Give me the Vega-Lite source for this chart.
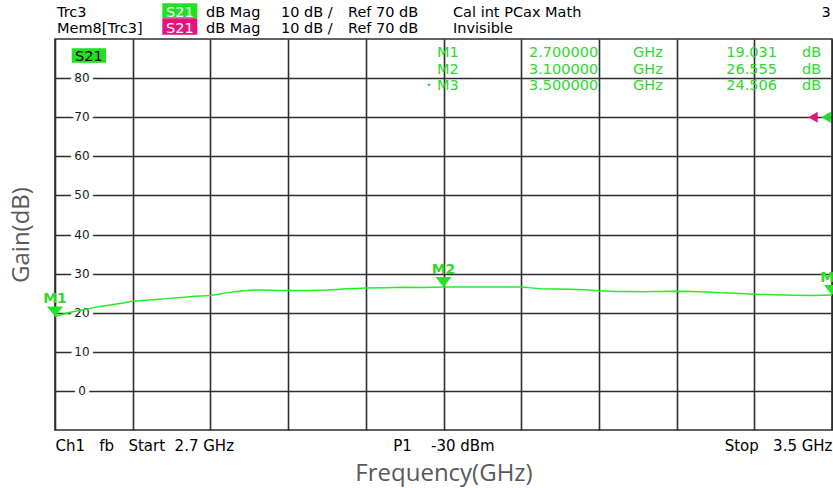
{
  "$schema": "https://vega.github.io/schema/vega-lite/v6.json",
  "width": 777,
  "height": 391,
  "autosize": {"type": "none"},
  "padding": {"left": 55, "top": 39, "right": 1, "bottom": 58},
  "background": "white",
  "config": {
    "view": {"stroke": "#2e2e2e", "strokeWidth": 1.6},
    "font": "DejaVu Sans",
    "text": {"font": "DejaVu Sans"}
  },
  "datasets": {
    "trace": [
      {"freq": 2.700, "gain": 19.03},
      {"freq": 2.708, "gain": 19.6},
      {"freq": 2.716, "gain": 20.1},
      {"freq": 2.724, "gain": 20.5},
      {"freq": 2.732, "gain": 20.9},
      {"freq": 2.740, "gain": 21.3},
      {"freq": 2.750, "gain": 21.7},
      {"freq": 2.760, "gain": 22.1},
      {"freq": 2.770, "gain": 22.5},
      {"freq": 2.780, "gain": 22.9},
      {"freq": 2.790, "gain": 23.1},
      {"freq": 2.800, "gain": 23.3},
      {"freq": 2.815, "gain": 23.6},
      {"freq": 2.830, "gain": 23.9},
      {"freq": 2.845, "gain": 24.2},
      {"freq": 2.860, "gain": 24.4},
      {"freq": 2.870, "gain": 24.8},
      {"freq": 2.880, "gain": 25.2},
      {"freq": 2.890, "gain": 25.5},
      {"freq": 2.900, "gain": 25.75},
      {"freq": 2.910, "gain": 25.8},
      {"freq": 2.920, "gain": 25.75},
      {"freq": 2.930, "gain": 25.7},
      {"freq": 2.940, "gain": 25.65},
      {"freq": 2.950, "gain": 25.7},
      {"freq": 2.960, "gain": 25.7},
      {"freq": 2.970, "gain": 25.75},
      {"freq": 2.980, "gain": 25.8},
      {"freq": 2.990, "gain": 25.95},
      {"freq": 3.000, "gain": 26.1},
      {"freq": 3.010, "gain": 26.2},
      {"freq": 3.020, "gain": 26.3},
      {"freq": 3.040, "gain": 26.4},
      {"freq": 3.060, "gain": 26.5},
      {"freq": 3.080, "gain": 26.45},
      {"freq": 3.100, "gain": 26.55},
      {"freq": 3.120, "gain": 26.6},
      {"freq": 3.140, "gain": 26.55},
      {"freq": 3.160, "gain": 26.6},
      {"freq": 3.180, "gain": 26.6},
      {"freq": 3.190, "gain": 26.35},
      {"freq": 3.200, "gain": 26.15},
      {"freq": 3.215, "gain": 26.05},
      {"freq": 3.230, "gain": 26.0},
      {"freq": 3.245, "gain": 25.9},
      {"freq": 3.260, "gain": 25.6},
      {"freq": 3.275, "gain": 25.45},
      {"freq": 3.290, "gain": 25.4},
      {"freq": 3.305, "gain": 25.35},
      {"freq": 3.320, "gain": 25.4},
      {"freq": 3.340, "gain": 25.5},
      {"freq": 3.355, "gain": 25.45},
      {"freq": 3.370, "gain": 25.3},
      {"freq": 3.385, "gain": 25.1},
      {"freq": 3.400, "gain": 25.0},
      {"freq": 3.420, "gain": 24.75},
      {"freq": 3.440, "gain": 24.6},
      {"freq": 3.460, "gain": 24.45},
      {"freq": 3.480, "gain": 24.4},
      {"freq": 3.500, "gain": 24.506}
    ],
    "markers": [
      {"marker": "M1", "freq": 2.7, "gain": 19.031},
      {"marker": "M2", "freq": 3.1, "gain": 26.555},
      {"marker": "M3", "freq": 3.5, "gain": 24.506}
    ],
    "reflevel": [
      {"trace": "Mem8[Trc3]", "freq": 3.4804, "gain": 70},
      {"trace": "Trc3", "freq": 3.4938, "gain": 70}
    ],
    "ticks": [
      {"gain": 0}, {"gain": 10}, {"gain": 20}, {"gain": 30}, {"gain": 40},
      {"gain": 50}, {"gain": 60}, {"gain": 70}, {"gain": 80}
    ]
  },
  "layer": [
    {
      "data": {"name": "ticks"},
      "mark": {"type": "text", "fontSize": 12, "fill": "white", "stroke": "white", "strokeWidth": 8, "align": "center", "baseline": "middle"},
      "encoding": {
        "x": {
          "datum": 2.7278, "type": "quantitative",
          "scale": {"domain": [2.7, 3.5], "nice": false, "zero": false},
          "axis": {
            "title": "Frequency(GHz)",
            "values": [2.7, 2.78, 2.86, 2.94, 3.02, 3.1, 3.18, 3.26, 3.34, 3.42, 3.5],
            "grid": true, "gridColor": "#2e2e2e", "gridWidth": 1.6,
            "domain": false, "ticks": false, "tickSize": 0,
            "labelExpr": "datum.value < 2.71 ? 'Ch1\u00a0\u00a0\u00a0fb\u00a0\u00a0\u00a0Start\u00a0\u00a02.7 GHz' : (abs(datum.value - 3.1) < 0.01 ? 'P1\u00a0\u00a0\u00a0\u00a0-30 dBm' : (datum.value > 3.49 ? 'Stop\u00a0\u00a0\u00a03.5 GHz' : ''))",
            "labelFlush": true, "labelOverlap": false, "labelBound": false,
            "labelPadding": 20, "labelBaseline": "alphabetic",
            "labelFont": "DejaVu Sans", "labelFontSize": 15, "labelColor": "#000000",
            "titleFont": "Open Sans", "titleFontSize": 24, "titleFontWeight": "normal",
            "titleColor": "#595959", "titlePadding": 8
          }
        },
        "y": {
          "field": "gain", "type": "quantitative",
          "scale": {"domain": [-10, 90], "nice": false, "zero": false},
          "axis": {
            "title": "Gain(dB)",
            "values": [0, 10, 20, 30, 40, 50, 60, 70, 80],
            "grid": true, "gridColor": "#2e2e2e", "gridWidth": 1.6,
            "domain": false, "ticks": false, "tickSize": 0, "labels": false,
            "titleFont": "Open Sans", "titleFontSize": 24, "titleFontWeight": "normal",
            "titleColor": "#595959", "titlePadding": 22
          }
        },
        "text": {"field": "gain", "type": "quantitative", "format": "d"}
      }
    },
    {
      "data": {"name": "ticks"},
      "mark": {"type": "text", "fontSize": 12, "color": "#1a1a1a", "align": "center", "baseline": "middle"},
      "encoding": {
        "x": {"datum": 2.7278, "type": "quantitative"},
        "y": {"field": "gain", "type": "quantitative"},
        "text": {"field": "gain", "type": "quantitative", "format": "d"}
      }
    },
    {
      "data": {"name": "trace"},
      "mark": {"type": "line", "color": "#22ee22", "strokeWidth": 1.5},
      "encoding": {
        "x": {"field": "freq", "type": "quantitative"},
        "y": {"field": "gain", "type": "quantitative"}
      }
    },
    {
      "data": {"name": "markers"},
      "mark": {"type": "point", "shape": "M-1,-1.25L1,-1.25L0,0Z", "filled": true, "color": "#22e622", "opacity": 1, "size": 256, "strokeWidth": 0},
      "encoding": {
        "x": {"field": "freq", "type": "quantitative"},
        "y": {"field": "gain", "type": "quantitative"}
      }
    },
    {
      "data": {"name": "markers"},
      "mark": {"type": "text", "fontSize": 14, "fontWeight": "bold", "color": "#2ed82e", "align": "center", "baseline": "middle", "dy": -17},
      "encoding": {
        "x": {"field": "freq", "type": "quantitative"},
        "y": {"field": "gain", "type": "quantitative"},
        "text": {"field": "marker"}
      }
    },
    {
      "data": {"name": "reflevel"},
      "mark": {"type": "point", "shape": "triangle-left", "filled": true, "opacity": 1, "size": 120, "strokeWidth": 0},
      "encoding": {
        "x": {"field": "freq", "type": "quantitative"},
        "y": {"field": "gain", "type": "quantitative"},
        "color": {"field": "trace", "type": "nominal", "scale": {"domain": ["Mem8[Trc3]", "Trc3"], "range": ["#e8127f", "#22dd22"]}, "legend": null}
      }
    },
    {
      "data": {"values": [{}]},
      "mark": {"type": "rect", "color": "#22e022"},
      "encoding": {
        "x": {"datum": 2.71719, "type": "quantitative"},
        "x2": {"datum": 2.75251},
        "y": {"datum": 87.62, "type": "quantitative"},
        "y2": {"datum": 83.94}
      }
    },
    {
      "data": {"values": [{}]},
      "mark": {"type": "text", "text": "S21", "fontSize": 14.5, "color": "#000000", "align": "center", "baseline": "alphabetic"},
      "encoding": {
        "x": {"datum": 2.73485, "type": "quantitative"},
        "y": {"datum": 84.3, "type": "quantitative"}
      }
    },
    {
      "data": {"values": [{}]},
      "mark": {"type": "rect", "color": "#22e022"},
      "encoding": {
        "x": {"datum": 2.81048, "type": "quantitative"},
        "x2": {"datum": 2.84651},
        "y": {"datum": 99.13, "type": "quantitative"},
        "y2": {"datum": 95.29}
      }
    },
    {
      "data": {"values": [{}]},
      "mark": {"type": "rect", "color": "#e8127f"},
      "encoding": {
        "x": {"datum": 2.81048, "type": "quantitative"},
        "x2": {"datum": 2.84651},
        "y": {"datum": 95.29, "type": "quantitative"},
        "y2": {"datum": 91.10}
      }
    },
    {
      "data": {"values": [{}]},
      "mark": {"type": "text", "text": ["S21", "S21"], "lineHeight": 16, "fontSize": 14.5, "color": "#ffffff", "align": "center", "baseline": "alphabetic"},
      "encoding": {
        "x": {"datum": 2.82849, "type": "quantitative"},
        "y": {"datum": 95.627, "type": "quantitative"}
      }
    },
    {
      "data": {"values": [{}]},
      "mark": {"type": "text", "text": ["Trc3", "Mem8[Trc3]"], "lineHeight": 16, "fontSize": 14.5, "color": "#000000", "align": "left", "baseline": "alphabetic"},
      "encoding": {
        "x": {"datum": 2.70206, "type": "quantitative"},
        "y": {"datum": 95.627, "type": "quantitative"}
      }
    },
    {
      "data": {"values": [{}]},
      "mark": {"type": "text", "text": ["dB Mag", "dB Mag"], "lineHeight": 16, "fontSize": 14.5, "color": "#000000", "align": "left", "baseline": "alphabetic"},
      "encoding": {
        "x": {"datum": 2.85547, "type": "quantitative"},
        "y": {"datum": 95.627, "type": "quantitative"}
      }
    },
    {
      "data": {"values": [{}]},
      "mark": {"type": "text", "text": ["10 dB /", "10 dB /"], "lineHeight": 16, "fontSize": 14.5, "color": "#000000", "align": "left", "baseline": "alphabetic"},
      "encoding": {
        "x": {"datum": 2.93269, "type": "quantitative"},
        "y": {"datum": 95.627, "type": "quantitative"}
      }
    },
    {
      "data": {"values": [{}]},
      "mark": {"type": "text", "text": ["Ref 70 dB", "Ref 70 dB"], "lineHeight": 16, "fontSize": 14.5, "color": "#000000", "align": "left", "baseline": "alphabetic"},
      "encoding": {
        "x": {"datum": 3.00167, "type": "quantitative"},
        "y": {"datum": 95.627, "type": "quantitative"}
      }
    },
    {
      "data": {"values": [{}]},
      "mark": {"type": "text", "text": ["Cal int PCax Math", "Invisible"], "lineHeight": 16, "fontSize": 14.5, "color": "#000000", "align": "left", "baseline": "alphabetic"},
      "encoding": {
        "x": {"datum": 3.10978, "type": "quantitative"},
        "y": {"datum": 95.627, "type": "quantitative"}
      }
    },
    {
      "data": {"values": [{}]},
      "mark": {"type": "text", "text": "3", "fontSize": 14.5, "color": "#000000", "align": "right", "baseline": "alphabetic"},
      "encoding": {
        "x": {"datum": 3.49866, "type": "quantitative"},
        "y": {"datum": 95.627, "type": "quantitative"}
      }
    },
    {
      "data": {"values": [{}]},
      "mark": {"type": "text", "text": ["M1", "M2", "M3"], "lineHeight": 16.3, "fontSize": 14.5, "color": "#2ed82e", "align": "left", "baseline": "alphabetic"},
      "encoding": {
        "x": {"datum": 3.09331, "type": "quantitative"},
        "y": {"datum": 85.32, "type": "quantitative"}
      }
    },
    {
      "data": {"values": [{}]},
      "mark": {"type": "text", "text": "•", "fontSize": 9, "color": "#2ed82e", "align": "center", "baseline": "middle"},
      "encoding": {
        "x": {"datum": 3.08507, "type": "quantitative"},
        "y": {"datum": 78.24, "type": "quantitative"}
      }
    },
    {
      "data": {"values": [{}]},
      "mark": {"type": "text", "text": ["2.700000", "3.100000", "3.500000"], "lineHeight": 16.3, "fontSize": 14.5, "color": "#2ed82e", "align": "left", "baseline": "alphabetic"},
      "encoding": {
        "x": {"datum": 3.18803, "type": "quantitative"},
        "y": {"datum": 85.32, "type": "quantitative"}
      }
    },
    {
      "data": {"values": [{}]},
      "mark": {"type": "text", "text": ["GHz", "GHz", "GHz"], "lineHeight": 16.3, "fontSize": 14.5, "color": "#2ed82e", "align": "left", "baseline": "alphabetic"},
      "encoding": {
        "x": {"datum": 3.29511, "type": "quantitative"},
        "y": {"datum": 85.32, "type": "quantitative"}
      }
    },
    {
      "data": {"values": [{}]},
      "mark": {"type": "text", "text": ["19.031", "26.555", "24.506"], "lineHeight": 16.3, "fontSize": 14.5, "color": "#2ed82e", "align": "right", "baseline": "alphabetic"},
      "encoding": {
        "x": {"datum": 3.44337, "type": "quantitative"},
        "y": {"datum": 85.32, "type": "quantitative"}
      }
    },
    {
      "data": {"values": [{}]},
      "mark": {"type": "text", "text": ["dB", "dB", "dB"], "lineHeight": 16.3, "fontSize": 14.5, "color": "#2ed82e", "align": "left", "baseline": "alphabetic"},
      "encoding": {
        "x": {"datum": 3.46911, "type": "quantitative"},
        "y": {"datum": 85.32, "type": "quantitative"}
      }
    }
  ]
}
